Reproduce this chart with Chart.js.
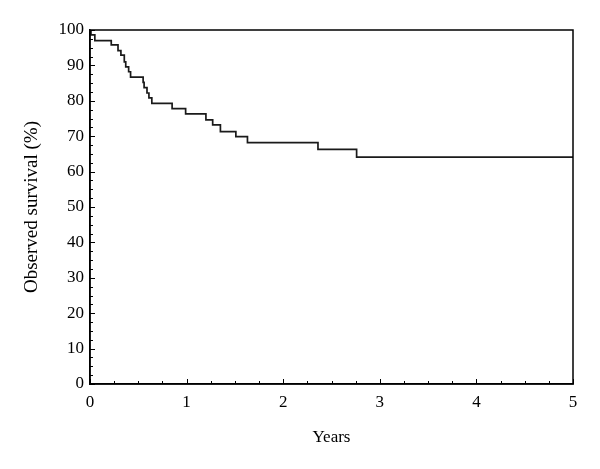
<!DOCTYPE html>
<html>
<head>
<meta charset="utf-8">
<script src="https://cdn.jsdelivr.net/npm/chart.js@4/dist/chart.umd.min.js"></script>
<style>
  html, body { margin: 0; padding: 0; background: #fff; }
  #c { display: block; }
</style>
</head>
<body>
<canvas id="c" width="600" height="469"></canvas>
<script>
// Kaplan-Meier step points (time in years, observed survival %)
const years    = [0, 0.01, 0.05, 0.22, 0.29, 0.32, 0.355, 0.37, 0.40, 0.42, 0.55, 0.56, 0.59, 0.61, 0.64, 0.85, 0.99, 1.20, 1.27, 1.35, 1.51, 1.63, 2.36, 2.76, 5];
const survival = [100, 98.6, 97.0, 95.8, 94.2, 92.9, 91.0, 89.6, 88.2, 86.7, 85.2, 83.7, 82.2, 80.8, 79.3, 77.8, 76.3, 74.6, 73.2, 71.3, 69.9, 68.2, 66.3, 64.1, 64.1];

const xTickLabels = [0, 1, 2, 3, 4, 5];
const yTickLabels = [0, 10, 20, 30, 40, 50, 60, 70, 80, 90, 100];
const xMinorStep = 0.25;
const yMinorStep = 2.5;

const FONT = "'Liberation Serif', 'DejaVu Serif', serif";

const frameAndTicks = {
  id: 'frameAndTicks',
  afterDraw(chart) {
    const { ctx, chartArea: a, scales: { x, y } } = chart;
    ctx.save();
    ctx.strokeStyle = '#000';
    ctx.lineWidth = 1.5;
    ctx.strokeRect(a.left, a.top, a.right - a.left, a.bottom - a.top);
    ctx.lineWidth = 1;
    ctx.beginPath();
    const xMin = xTickLabels[0], xMax = xTickLabels[xTickLabels.length - 1];
    for (let v = xMin; v <= xMax + 1e-9; v += xMinorStep) {
      const major = xTickLabels.some(t => Math.abs(t - v) < 1e-9);
      const px = Math.round(x.getPixelForValue(v)) + 0.5;
      const len = major ? 5 : 3;
      ctx.moveTo(px, a.bottom);
      ctx.lineTo(px, a.bottom - len);
    }
    const yMin = yTickLabels[0], yMax = yTickLabels[yTickLabels.length - 1];
    for (let v = yMin; v <= yMax + 1e-9; v += yMinorStep) {
      const major = yTickLabels.some(t => Math.abs(t - v) < 1e-9);
      const py = Math.round(y.getPixelForValue(v)) + 0.5;
      const len = major ? 5 : 3;
      ctx.moveTo(a.left, py);
      ctx.lineTo(a.left + len, py);
    }
    ctx.stroke();
    ctx.restore();
  }
};

new Chart(document.getElementById('c'), {
  type: 'line',
  data: {
    datasets: [{
      data: years.map((t, i) => ({ x: t, y: survival[i] })),
      borderColor: '#1a1a1a',
      borderWidth: 1.7,
      pointRadius: 0,
      stepped: true,
      fill: false,
      tension: 0
    }]
  },
  options: {
    responsive: false,
    animation: false,
    devicePixelRatio: 1,
    layout: { padding: { top: 30, right: 27, left: 0, bottom: 0 } },
    plugins: { legend: { display: false }, tooltip: { enabled: false } },
    scales: {
      x: {
        type: 'linear',
        min: 0, max: 5,
        afterFit(s) { s.height = 85; },
        border: { display: true, color: '#000', width: 1.5 },
        grid: { display: false, drawTicks: false },
        ticks: { stepSize: 1, padding: 8, color: '#000', font: { family: FONT, size: 17 } },
        title: { display: true, text: 'Years', color: '#000', font: { family: FONT, size: 17 }, padding: { top: 0, bottom: 21 } }
      },
      y: {
        type: 'linear',
        min: 0, max: 100,
        afterFit(s) { s.width = 90; },
        border: { display: true, color: '#000', width: 1.5 },
        grid: { display: false, drawTicks: false },
        ticks: { stepSize: 10, padding: 6, color: '#000', font: { family: FONT, size: 17 } },
        title: { display: true, text: 'Observed survival (%)', color: '#000', font: { family: FONT, size: 19 }, padding: { top: 21, bottom: 0 } }
      }
    }
  },
  plugins: [frameAndTicks]
});
</script>
</body>
</html>
